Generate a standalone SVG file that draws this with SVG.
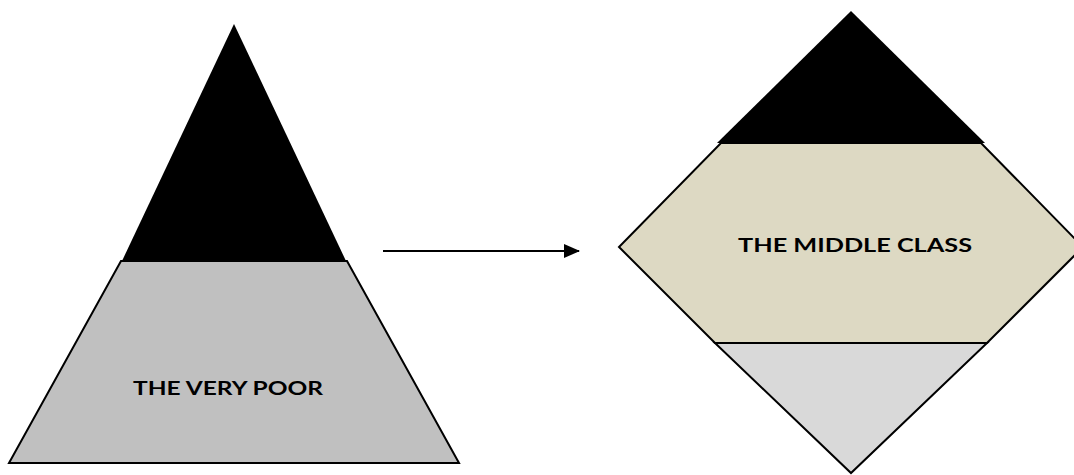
<svg xmlns="http://www.w3.org/2000/svg" width="1074" height="475" viewBox="0 0 1074 475">
  <style>
    .edge { stroke: #000; stroke-width: 2; stroke-linejoin: miter; }
    .label { font-family: Lato, "Liberation Sans", sans-serif; font-weight: bold; font-size: 19px; fill: #000; }
  </style>
  <defs>
    <marker id="arrowhead" markerWidth="16" markerHeight="14" refX="15" refY="7" orient="auto" markerUnits="userSpaceOnUse">
      <path d="M0,0 L16,7 L0,14 Z" fill="#000"/>
    </marker>
  </defs>
  <rect width="1074" height="475" fill="#fff"/>

  <!-- pyramid -->
  <g id="pyramid">
    <polygon points="234,24 122,261 346,261" fill="#000"/>
    <polygon class="edge" points="121,261 347,261 459,463 9,463" fill="#C0C0C0"/>
    <text class="label" x="228" y="395" text-anchor="middle" textLength="190" lengthAdjust="spacingAndGlyphs">THE VERY POOR</text>
  </g>

  <!-- diamond -->
  <g id="diamond">
    <polygon points="851,11 717,143 985,143" fill="#000"/>
    <polygon class="edge" points="721,143 981,143 1083,247 987,343 715,343 619,247" fill="#DDD9C3"/>
    <polygon class="edge" points="715,343 987,343 851,473" fill="#D9D9D9"/>
    <line x1="721" y1="143" x2="981" y2="143" stroke="#000" stroke-width="2"/>
    <text class="label" x="855" y="252" text-anchor="middle" textLength="234" lengthAdjust="spacingAndGlyphs">THE MIDDLE CLASS</text>
  </g>

  <!-- connectors -->
  <g id="connectors">
    <line x1="383" y1="251" x2="579" y2="251" stroke="#000" stroke-width="2" marker-end="url(#arrowhead)"/>
  </g>
</svg>
